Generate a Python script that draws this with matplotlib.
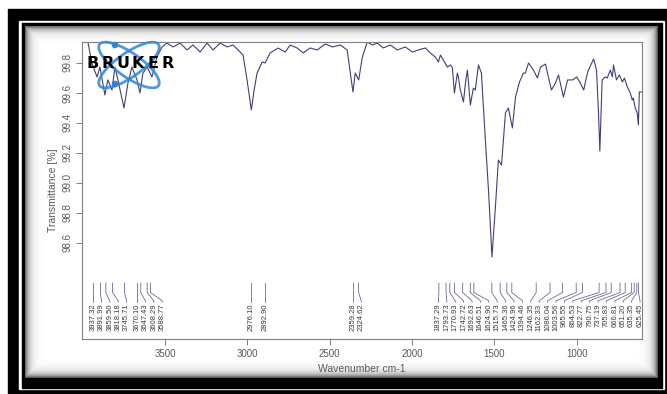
import numpy as np
import matplotlib
matplotlib.use("Agg")
import matplotlib.pyplot as plt
from matplotlib.patches import Rectangle, Ellipse, Circle

# spectrum (wavenumber cm-1, transmittance %)
wavenumber = [3992, 3968, 3944, 3913, 3895, 3865, 3847, 3822, 3804, 3786,
              3749, 3725, 3701, 3670, 3652, 3634, 3609, 3579, 3549, 3518,
              3488, 3451, 3409, 3366, 3330, 3287, 3245, 3208, 3166, 3123,
              3087, 3056, 3026, 3002, 2976, 2959, 2941, 2910, 2892, 2862,
              2813, 2771, 2740, 2698, 2661, 2619, 2576, 2527, 2485, 2436,
              2394, 2359, 2345, 2324, 2302, 2272, 2242, 2211, 2175, 2132,
              2090, 2041, 1998, 1962, 1919, 1889, 1859, 1840, 1828, 1810,
              1786, 1767, 1755, 1743, 1725, 1719, 1707, 1688, 1676, 1664,
              1646, 1628, 1616, 1597, 1579, 1555, 1536, 1515, 1494, 1476,
              1457, 1433, 1415, 1391, 1372, 1348, 1324, 1312, 1293, 1263,
              1239, 1220, 1190, 1178, 1154, 1129, 1111, 1081, 1056, 1026,
              1000, 982, 958, 934, 898, 880, 868, 860, 846, 828,
              815, 796, 784, 777, 759, 741, 723, 711, 693, 675,
              663, 657, 645, 633, 626, 620, 604]
transmittance = [99.95, 99.94, 99.80, 99.707, 99.773, 99.587, 99.687, 99.62, 99.773, 99.687,
                 99.50, 99.667, 99.773, 99.687, 99.60, 99.733, 99.773, 99.707, 99.84, 99.907,
                 99.933, 99.907, 99.933, 99.887, 99.92, 99.873, 99.933, 99.887, 99.933, 99.907,
                 99.92, 99.887, 99.853, 99.687, 99.487, 99.62, 99.733, 99.807, 99.80, 99.867,
                 99.90, 99.873, 99.92, 99.90, 99.867, 99.90, 99.887, 99.927, 99.907, 99.92,
                 99.887, 99.607, 99.733, 99.687, 99.84, 99.94, 99.92, 99.933, 99.90, 99.92,
                 99.887, 99.907, 99.873, 99.887, 99.90, 99.867, 99.84, 99.807, 99.853, 99.82,
                 99.773, 99.787, 99.767, 99.60, 99.733, 99.707, 99.62, 99.54, 99.667, 99.753,
                 99.52, 99.633, 99.62, 99.787, 99.733, 99.287, 98.953, 98.507, 98.84, 99.153,
                 99.12, 99.467, 99.50, 99.367, 99.573, 99.673, 99.733, 99.733, 99.80, 99.753,
                 99.70, 99.773, 99.793, 99.733, 99.62, 99.667, 99.72, 99.573, 99.687, 99.687,
                 99.707, 99.673, 99.62, 99.74, 99.827, 99.753, 99.467, 99.213, 99.687, 99.707,
                 99.70, 99.753, 99.707, 99.787, 99.687, 99.72, 99.673, 99.70, 99.64, 99.60,
                 99.553, 99.567, 99.50, 99.467, 99.387, 99.607, 99.607]

peaks = [3937.32, 3891.99, 3859.50, 3818.18, 3745.71, 3670.10, 3647.43, 3608.29, 3588.77,
         2976.10, 2892.90, 2359.28, 2324.62,
         1837.29, 1793.73, 1770.93, 1742.72, 1692.63, 1646.51, 1624.90, 1515.73, 1465.36,
         1424.96, 1394.46, 1246.35, 1162.33, 1086.04, 1003.56, 965.55, 864.53, 822.77,
         790.75, 737.19, 705.83, 666.81, 651.20, 635.35, 625.45]

x_ticks = [3500, 3000, 2500, 2000, 1500, 1000]
y_ticks = [98.6, 98.8, 99.0, 99.2, 99.4, 99.6, 99.8]

W, H = 667, 394
GREY = '#5a5a5a'
LINE = '#3f3f7c'

plt.rcParams['font.family'] = ['Liberation Sans', 'DejaVu Sans']


# push peak labels apart so the rotated texts don't overlap
def spread_labels(vals, gap, low):
    pos = list(vals)
    for i in range(1, len(pos)):
        pos[i] = min(pos[i], pos[i - 1] - gap)
    pos[-1] = max(pos[-1], low)
    for i in range(len(pos) - 2, -1, -1):
        pos[i] = max(pos[i], pos[i + 1] + gap)
    return pos


def draw_frame(bg):
    bg.add_patch(Rectangle((8, 9), W, H, color='black', zorder=1))
    bg.add_patch(Rectangle((19, 20.5), 644.5, 368.5, color='white', zorder=1.1))
    bg.add_patch(Rectangle((21.5, 23), 640.5, 364.5, color='black', zorder=1.2))
    # soft grey shadow inside the inner black line
    x0, x1, y0, y1 = 24.5, 657.5, 26, 378
    gx = np.arange(int(x1 - x0)) + 0.5
    gy = np.arange(int(y1 - y0)) + 0.5
    d = np.minimum.outer(np.minimum(gy, gy[-1] - gy), np.minimum(gx, gx[-1] - gx))
    shade = 1 - 0.65 * np.exp(-d / 4.0)
    bg.imshow(shade, cmap='gray', vmin=0, vmax=1, extent=(x0, x1, y1, y0),
              aspect='auto', interpolation='bilinear', zorder=2)
    bg.set_xlim(0, W)
    bg.set_ylim(H, 0)


def draw_logo(lg):
    blue = '#2f86d8'
    cx, cy = 129, 65
    lg.add_patch(Ellipse((cx, cy), 72, 24, angle=35, fill=False, ec=blue, lw=2.0, alpha=0.85))
    lg.add_patch(Ellipse((cx, cy), 72, 24, angle=-35, fill=False, ec=blue, lw=2.0, alpha=0.85))
    for px, py in [(115, 45), (115, 84)]:
        lg.add_patch(Circle((px, py), 2.6, color=blue))
    for i, ch in enumerate("BRUKER"):
        lg.text(93 + 15.0 * i, 63.5, ch, ha='center', va='center', fontsize=11.5,
                fontweight='heavy', family='DejaVu Sans', color='black')
    lg.set_xlim(0, W)
    lg.set_ylim(H, 0)


fig = plt.figure(figsize=(W / 100, H / 100), dpi=100)
fig.patch.set_facecolor('white')

bg = fig.add_axes([0, 0, 1, 1])
bg.axis('off')
draw_frame(bg)

ax = fig.add_axes([82 / W, 1 - 339 / H, 560 / W, 297 / H])
ax.set_zorder(2)
ax.plot(wavenumber, transmittance, color=LINE, lw=0.8)
ax.set_xlim(4004, 604)
ax.set_ylim(97.96, 99.94)
ax.set_xticks(x_ticks)
ax.set_yticks(y_ticks)
ax.set_yticklabels([f'{v:.1f}' for v in y_ticks])
for s in ax.spines.values():
    s.set_color('#808080')
    s.set_linewidth(0.8)
ax.tick_params(colors='#808080', labelcolor=GREY, labelsize=7, length=4, width=0.7)
ax.tick_params(axis='y', labelrotation=90, pad=3)
for lab in ax.get_yticklabels():
    lab.set_va('center')
ax.set_xlabel('Wavenumber cm-1', fontsize=7.5, color=GREY, labelpad=3)
ax.set_ylabel('Transmittance [%]', fontsize=7.5, color=GREY, labelpad=3)

label_x = spread_labels(peaks, 51, 616)
for p, lx in zip(peaks, label_x):
    ax.plot([p, p, lx, lx], [98.333, 98.27, 98.215, 98.205], color='#6b6b98', lw=0.6)
    ax.text(lx, 98.195, f'{p:.2f}', rotation=90, ha='center', va='top',
            fontsize=5.5, color='#3a3a3a')

lg = fig.add_axes([0, 0, 1, 1])
lg.set_zorder(3)
lg.axis('off')
lg.patch.set_alpha(0)
draw_logo(lg)

fig.savefig('out.png', dpi=100)
